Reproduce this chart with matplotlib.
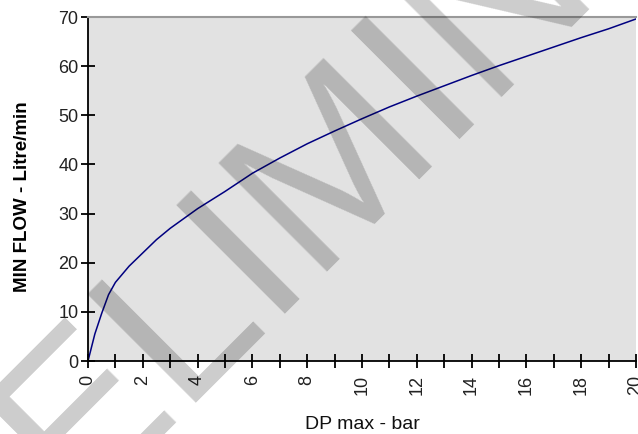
import matplotlib
matplotlib.use('Agg')
import matplotlib.pyplot as plt
from matplotlib.ticker import MultipleLocator

plt.rcParams['font.family'] = ['Liberation Sans', 'DejaVu Sans']

# differential pressure (bar) and minimum flow (litre/min)
dp_bar = [0, 0.25, 0.5, 0.75, 1, 1.5, 2, 2.5, 3, 3.5, 4,
          5, 6, 7, 8, 9, 10, 11, 12, 13, 14, 15, 16, 17, 18, 19, 20]
min_flow = [0, 5.5, 9.7, 13.5, 16.0, 19.3, 22.0, 24.7, 27.0, 29.0, 31.0,
            34.5, 38.2, 41.3, 44.2, 46.8, 49.3, 51.7, 53.9, 56.0, 58.1,
            60.1, 62.0, 63.9, 65.8, 67.6, 69.6]

x_label = 'DP max - bar'
y_label = 'MIN FLOW - Litre/min'
watermark = 'PRELIMINARY'

fig = plt.figure(figsize=(6.38, 4.34), dpi=100)
fig.patch.set_facecolor('white')
ax = fig.add_axes([88 / 638, 1 - 361 / 434, 548 / 638, 344 / 434])
ax.set_facecolor('#e2e2e2')

ax.plot(dp_bar, min_flow, color='#000080', linewidth=1.1)

ax.set_xlim(0, 20)
ax.set_ylim(0, 70)
ax.xaxis.set_major_locator(MultipleLocator(2))
ax.xaxis.set_minor_locator(MultipleLocator(1))
ax.yaxis.set_major_locator(MultipleLocator(10))

ax.tick_params(axis='both', which='both', direction='inout', length=10,
               width=1.3, color='black', labelsize=13, labelcolor='#222222')
ax.tick_params(axis='x', which='major', labelrotation=90, pad=5)
ax.tick_params(axis='y', pad=2)

for side in ['left', 'bottom']:
    ax.spines[side].set_color('black')
    ax.spines[side].set_linewidth(1.3)
ax.spines['top'].set_color('#999999')
ax.spines['top'].set_linewidth(1.5)
ax.spines['right'].set_visible(False)

ax.set_xlabel(x_label, fontsize=14, color='#111111', labelpad=15)
ax.set_ylabel(y_label, fontsize=13.5, fontweight='bold', color='black')
ax.yaxis.set_label_coords(-0.104, 0.477)

# diagonal watermark across the whole figure
fig.text(387 / 638, 1 - 194 / 434, watermark, fontsize=160, color='black',
         alpha=0.2, rotation=45, rotation_mode='anchor',
         ha='center', va='baseline', zorder=10)

fig.savefig('out.png', dpi=100)
